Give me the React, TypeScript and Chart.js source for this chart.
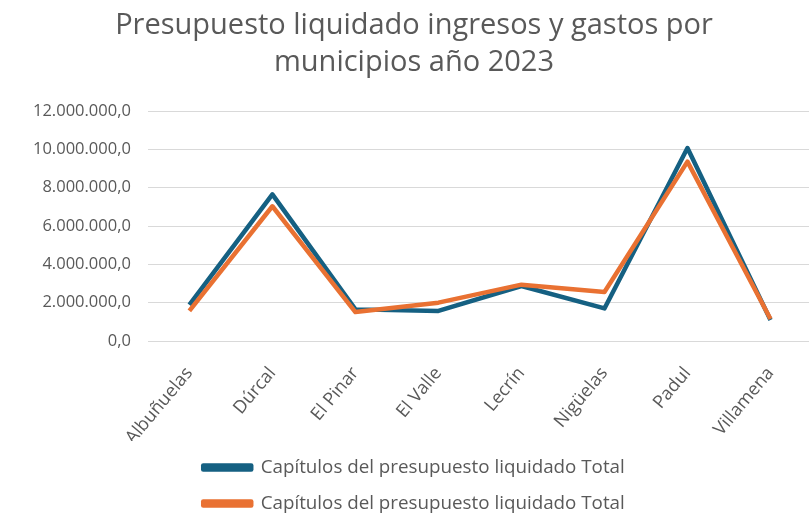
import React, { useEffect, useRef } from "react";
import { Chart, registerables } from "chart.js";

Chart.register(...registerables);

const categories = ["Albuñuelas", "Dúrcal", "El Pinar", "El Valle", "Lecrín", "Nigüelas", "Padul", "Villamena"];
const seriesBlue = [1880000, 7650000, 1650000, 1570000, 2870000, 1700000, 10070000, 1100000];
const seriesOrange = [1570000, 7030000, 1510000, 2000000, 2940000, 2560000, 9360000, 1150000];
const seriesNames = ["Capítulos del presupuesto liquidado Total", "Capítulos del presupuesto liquidado Total"];
const titleLines = ["Presupuesto liquidado ingresos y gastos por", "municipios año 2023"];
const yMin = 0;
const yMax = 12000000;
const yStep = 2000000;

const BLUE = "#156082";
const ORANGE = "#E97132";
const TEXT = "#595959";
const FONT = "'Open Sans', sans-serif";

function formatEs(v: number): string {
  const s = Math.round(v).toString().replace(/\B(?=(\d{3})+(?!\d))/g, ".");
  return s + ",0";
}

export default function App() {
  const ref = useRef<HTMLCanvasElement | null>(null);
  useEffect(() => {
    if (!ref.current) return;
    const chart = new Chart(ref.current, {
      type: "line",
      data: {
        labels: categories,
        datasets: [
          {
            label: seriesNames[0],
            data: seriesBlue,
            borderColor: BLUE,
            backgroundColor: BLUE,
            borderWidth: 4.5,
            pointRadius: 0,
            tension: 0,
            borderJoinStyle: "round",
            order: 1,
          },
          {
            label: seriesNames[1],
            data: seriesOrange,
            borderColor: ORANGE,
            backgroundColor: ORANGE,
            borderWidth: 4.5,
            pointRadius: 0,
            tension: 0,
            borderJoinStyle: "round",
            order: 0,
          },
        ],
      },
      options: {
        animation: false,
        responsive: false,
        maintainAspectRatio: false,
        layout: { padding: { left: 16, right: 24, top: 0, bottom: 0 } },
        plugins: {
          title: {
            display: true,
            text: titleLines,
            color: TEXT,
            font: { family: FONT, size: 29, weight: "normal", lineHeight: 37 / 29 },
            padding: { top: 7, bottom: 30 },
          },
          legend: {
            position: "bottom",
            labels: {
              color: TEXT,
              font: { family: FONT, size: 18.8 },
              boxWidth: 48,
              boxHeight: 4,
              padding: 17.2,
              sort: (a: any, b: any) => a.datasetIndex - b.datasetIndex,
            },
          },
          tooltip: { enabled: false },
        },
        scales: {
          x: {
            offset: true,
            grid: { display: false, drawTicks: false },
            border: { display: false },
            afterFit: (axis: any) => {
              axis.height = 100;
            },
            ticks: {
              color: TEXT,
              font: { family: FONT, size: 18 },
              minRotation: 50,
              maxRotation: 50,
              padding: 22,
              autoSkip: false,
            },
          },
          y: {
            min: yMin,
            max: yMax,
            grid: { color: "#D9D9D9", lineWidth: 1, drawTicks: false },
            border: { display: false },
            ticks: {
              stepSize: yStep,
              color: TEXT,
              font: { family: FONT, size: 16.5 },
              padding: 17,
              callback: (v: any) => formatEs(Number(v)),
            },
          },
        },
      },
    });
    return () => chart.destroy();
  }, []);
  return (
    <div style={{ position: "fixed", left: 0, top: 0, width: 836, height: 523, background: "#fff" }}>
      <canvas ref={ref} width={836} height={523} style={{ width: 836, height: 523 }} />
    </div>
  );
}
